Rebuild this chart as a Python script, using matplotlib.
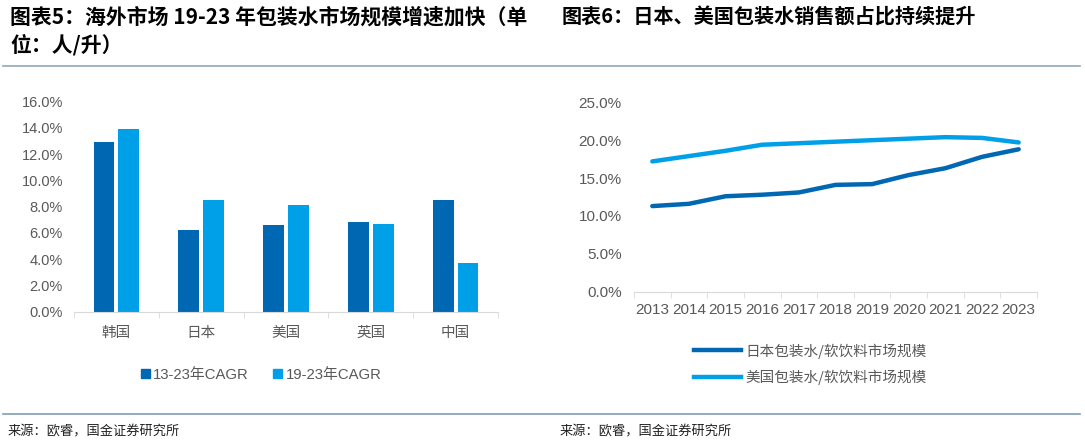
import matplotlib.pyplot as plt
from matplotlib.patches import Patch
from matplotlib.lines import Line2D
from matplotlib.ticker import PercentFormatter, FixedLocator
import numpy as np

# data
countries = ['韩国', '日本', '美国', '英国', '中国']
cagr_13_23 = [12.9, 6.2, 6.6, 6.8, 8.5]
cagr_19_23 = [13.9, 8.5, 8.1, 6.7, 3.7]
bar_names = ['13-23年CAGR', '19-23年CAGR']

years = ['2013', '2014', '2015', '2016', '2017', '2018', '2019', '2020', '2021', '2022', '2023']
japan_share = [11.3, 11.6, 12.6, 12.8, 13.1, 14.1, 14.2, 15.4, 16.3, 17.8, 18.8]
us_share = [17.2, 17.9, 18.6, 19.4, 19.6, 19.8, 20.0, 20.2, 20.4, 20.3, 19.7]
line_names = ['日本包装水/软饮料市场规模', '美国包装水/软饮料市场规模']

DARK = '#0068b3'
LIGHT = '#00a0e8'
GREY = '#595959'
FAM = ['Liberation Sans', 'Noto Sans CJK SC']
CJK = ['Noto Sans CJK SC', 'DejaVu Sans']

plt.rcParams['font.family'] = FAM

fig = plt.figure(figsize=(10.85, 4.46), dpi=100)

# titles and rules
fig.text(10 / 1085, 1 - 17 / 446, '图表5：海外市场 19-23 年包装水市场规模增速加快（单',
         family=CJK, fontsize=15, fontweight='bold', va='center', color='black')
fig.text(10 / 1085, 1 - 45 / 446, '位：人/升）',
         family=CJK, fontsize=15, fontweight='bold', va='center', color='black')
fig.text(562 / 1085, 1 - 17 / 446, '图表6：日本、美国包装水销售额占比持续提升',
         family=CJK, fontsize=14.5, fontweight='bold', va='center', color='black')
fig.add_artist(Line2D([3 / 1085, 1080 / 1085], [1 - 66 / 446] * 2, color='#8fa9bd', lw=1.2))
fig.add_artist(Line2D([3 / 1085, 1080 / 1085], [1 - 414 / 446] * 2, color='#7f9db3', lw=1.2))
for x in (8, 560):
    fig.text(x / 1085, 1 - 432 / 446, '来源：欧睿，国金证券研究所', family=CJK,
             fontsize=9.5, va='center', color='#222222')

# left: bar chart
ax1 = fig.add_axes([74 / 1085, 1 - 311.7 / 446, 424 / 1085, 210 / 446])
x = np.arange(len(countries))
w = 0.245
ax1.bar(x - w / 2 - 0.024, np.array(cagr_13_23) / 100, w, color=DARK, label=bar_names[0])
ax1.bar(x + w / 2 + 0.024, np.array(cagr_19_23) / 100, w, color=LIGHT, label=bar_names[1])
ax1.set_xlim(-0.5, len(countries) - 0.5)
ax1.set_ylim(0, 0.16)
ax1.set_yticks(np.arange(0, 0.161, 0.02))
ax1.yaxis.set_major_formatter(PercentFormatter(1.0, decimals=1))
ax1.set_xticks(x)
ax1.set_xticklabels(countries, family=CJK)
ax1.xaxis.set_minor_locator(FixedLocator(np.arange(-0.5, len(countries), 1.0)))
ax1.tick_params(axis='x', which='major', length=0, pad=10, labelsize=10.5, labelcolor=GREY)
ax1.tick_params(axis='x', which='minor', length=4, color='#d9d9d9', direction='out')
ax1.tick_params(axis='y', length=0, labelsize=10.5, labelcolor=GREY, pad=8)
for s in ('top', 'right', 'left'):
    ax1.spines[s].set_visible(False)
ax1.spines['bottom'].set_color('#d9d9d9')
ax1.legend(handles=[Patch(color=DARK), Patch(color=LIGHT)], labels=bar_names,
           loc='center', bbox_to_anchor=(261 / 1085, 1 - 375 / 446),
           bbox_transform=fig.transFigure, ncol=2, frameon=False,
           fontsize=10.7, labelcolor=GREY, handlelength=0.6, handleheight=0.6,
           handletextpad=0.25, columnspacing=1.6)

# right: line chart
ax2 = fig.add_axes([634 / 1085, 1 - 291.7 / 446, 403 / 1085, 189.4 / 446])
xi = np.arange(len(years))
ax2.plot(xi, np.array(japan_share) / 100, color=DARK, lw=3.2, solid_capstyle='round')
ax2.plot(xi, np.array(us_share) / 100, color=LIGHT, lw=3.2, solid_capstyle='round')
ax2.set_xlim(-0.5, len(years) - 0.5)
ax2.set_ylim(0, 0.25)
ax2.set_yticks(np.arange(0, 0.251, 0.05))
ax2.yaxis.set_major_formatter(PercentFormatter(1.0, decimals=1))
ax2.set_xticks(xi)
ax2.set_xticklabels(years)
ax2.xaxis.set_minor_locator(FixedLocator(np.arange(-0.5, len(years), 1.0)))
ax2.tick_params(axis='x', which='major', length=0, pad=8, labelsize=11, labelcolor=GREY)
ax2.tick_params(axis='x', which='minor', length=4, color='#d9d9d9', direction='out')
ax2.tick_params(axis='y', length=0, labelsize=11, labelcolor=GREY, pad=9)
for s in ('top', 'right', 'left'):
    ax2.spines[s].set_visible(False)
ax2.spines['bottom'].set_color('#d9d9d9')
ax2.legend(handles=[Line2D([], [], color=DARK, lw=3.2), Line2D([], [], color=LIGHT, lw=3.2)],
           labels=line_names, loc='center', bbox_to_anchor=(810 / 1085, 1 - 364 / 446),
           bbox_transform=fig.transFigure, ncol=1, frameon=False, prop={'family': CJK, 'size': 10.5},
           labelcolor=GREY, handlelength=3.2, handletextpad=0.3, labelspacing=0.75)

fig.savefig('out.png', dpi=100)
